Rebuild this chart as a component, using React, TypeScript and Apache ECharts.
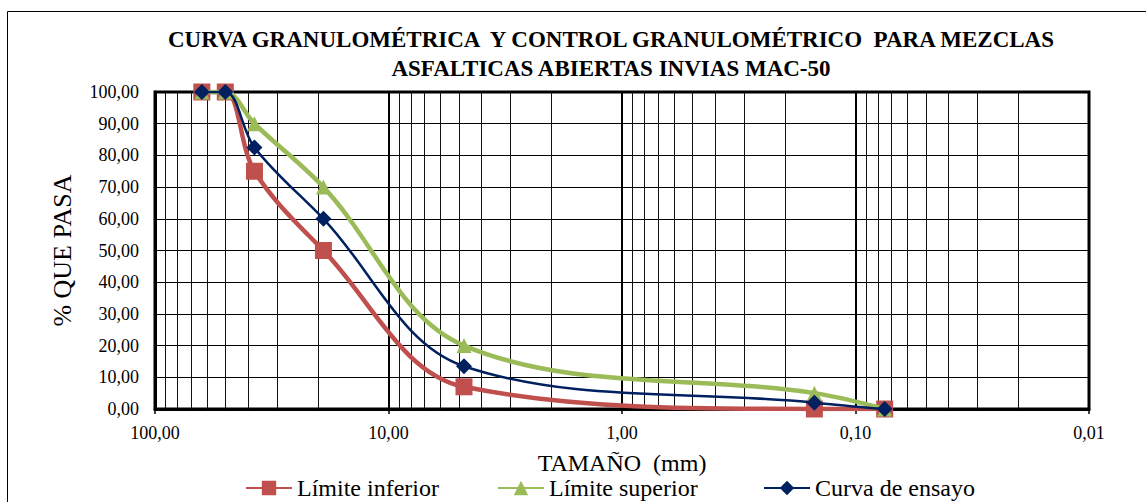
import React, { useEffect, useRef } from "react";
import * as echarts from "echarts";

const sizes = [63, 50, 37.5, 19, 4.75, 0.15, 0.075];
const lowerLimit = [100, 100, 75, 50, 7, 0, 0];
const upperLimit = [100, 100, 90, 70, 20, 5, 0];
const testCurve = [100, 100, 82.5, 60, 13.5, 2, 0];

const seriesNames = ["Límite inferior", "Límite superior", "Curva de ensayo"];
const titleLines = [
  "CURVA GRANULOMÉTRICA  Y CONTROL GRANULOMÉTRICO  PARA MEZCLAS",
  "ASFALTICAS ABIERTAS INVIAS MAC-50",
];
const decades = [0.01, 0.1, 1, 10];
const minorMultipliers = [2, 3, 4, 5, 6, 7, 8, 9];

const FONT = "Liberation Serif";
const fmt = (v: number) => Number(v).toFixed(2).replace(".", ",");

export default function App() {
  const ref = useRef<HTMLDivElement>(null);
  useEffect(() => {
    if (!ref.current) return;
    const chart = echarts.init(ref.current, undefined, { renderer: "svg" });
    const pairs = (ys: number[]) => sizes.map((s, i) => [s, ys[i]]);
    const minorLines = decades.flatMap((d) =>
      minorMultipliers.map((m) => ({ xAxis: +(d * m).toPrecision(3) }))
    );
    const legendBase = {
      top: 471,
      itemWidth: 46,
      itemHeight: 18,
      itemGap: 0,
      textStyle: { fontFamily: FONT, fontSize: 24, color: "#000" },
    };
    chart.setOption({
      animation: false,
      backgroundColor: "#fff",
      title: {
        text: titleLines.join("\n"),
        left: 606,
        textAlign: "center",
        top: 20,
        textStyle: {
          fontFamily: FONT,
          fontSize: 23,
          fontWeight: "bold",
          color: "#000",
          lineHeight: 29,
        },
      },
      graphic: [
        {
          type: "rect",
          shape: { x: 7.5, y: 11.5, width: 1400, height: 800 },
          style: { fill: "none", stroke: "#000", lineWidth: 1 },
          silent: true,
        },
      ],
      legend: [
        { ...legendBase, left: 240, data: [seriesNames[0]] },
        { ...legendBase, left: 492, data: [seriesNames[1]] },
        { ...legendBase, left: 758, data: [seriesNames[2]] },
      ],
      grid: {
        left: 155,
        top: 92,
        right: 57,
        bottom: 93,
        show: true,
        borderColor: "#000",
        borderWidth: 3,
      },
      xAxis: {
        type: "log",
        logBase: 10,
        inverse: true,
        min: 0.01,
        max: 100,
        name: "TAMAÑO  (mm)",
        nameLocation: "middle",
        nameGap: 42,
        nameTextStyle: { fontFamily: FONT, fontSize: 24, color: "#000" },
        axisLine: { show: true, lineStyle: { color: "#000", width: 3 } },
        axisTick: { show: true, length: 5, lineStyle: { color: "#000", width: 1.5 } },
        axisLabel: {
          formatter: fmt,
          fontFamily: FONT,
          fontSize: 18,
          color: "#000",
          margin: 15,
          showMinLabel: true,
          showMaxLabel: true,
        },
        splitLine: { show: true, lineStyle: { color: "#000", width: 2 } },
      },
      yAxis: {
        type: "value",
        min: 0,
        max: 100,
        interval: 10,
        name: "% QUE PASA",
        nameLocation: "middle",
        nameGap: 80,
        nameRotate: 90,
        nameTextStyle: { fontFamily: FONT, fontSize: 26, color: "#000" },
        axisLine: { show: true, lineStyle: { color: "#000", width: 3 } },
        axisTick: { show: false },
        axisLabel: {
          formatter: fmt,
          fontFamily: FONT,
          fontSize: 18,
          color: "#000",
          margin: 16,
        },
        splitLine: { show: true, lineStyle: { color: "#000", width: 1.2 } },
      },
      series: [
        {
          type: "line",
          name: "grid-minor",
          data: [],
          silent: true,
          z: 1,
          markLine: {
            silent: true,
            symbol: ["none", "none"],
            label: { show: false },
            lineStyle: { color: "#111", width: 1, type: "solid" },
            emphasis: { disabled: true },
            data: minorLines,
          },
        },
        {
          type: "line",
          name: seriesNames[0],
          data: pairs(lowerLimit),
          smooth: 0.35,
          z: 10,
          symbol: "rect",
          symbolSize: 17,
          showAllSymbol: true,
          lineStyle: { color: "#C0504D", width: 4.5 },
          itemStyle: { color: "#C0504D" },
        },
        {
          type: "line",
          name: seriesNames[1],
          data: pairs(upperLimit),
          smooth: 0.35,
          z: 11,
          symbol: "triangle",
          symbolSize: 15,
          showAllSymbol: true,
          lineStyle: { color: "#9BBB59", width: 4.5 },
          itemStyle: { color: "#9BBB59" },
        },
        {
          type: "line",
          name: seriesNames[2],
          data: pairs(testCurve),
          smooth: 0.35,
          z: 12,
          symbol: "diamond",
          symbolSize: 16,
          showAllSymbol: true,
          lineStyle: { color: "#002060", width: 2.5 },
          itemStyle: { color: "#002060" },
        },
      ],
    });
    return () => chart.dispose();
  }, []);
  return (
    <div
      ref={ref}
      style={{ position: "fixed", left: 0, top: 0, width: 1146, height: 502, background: "#fff" }}
    />
  );
}
